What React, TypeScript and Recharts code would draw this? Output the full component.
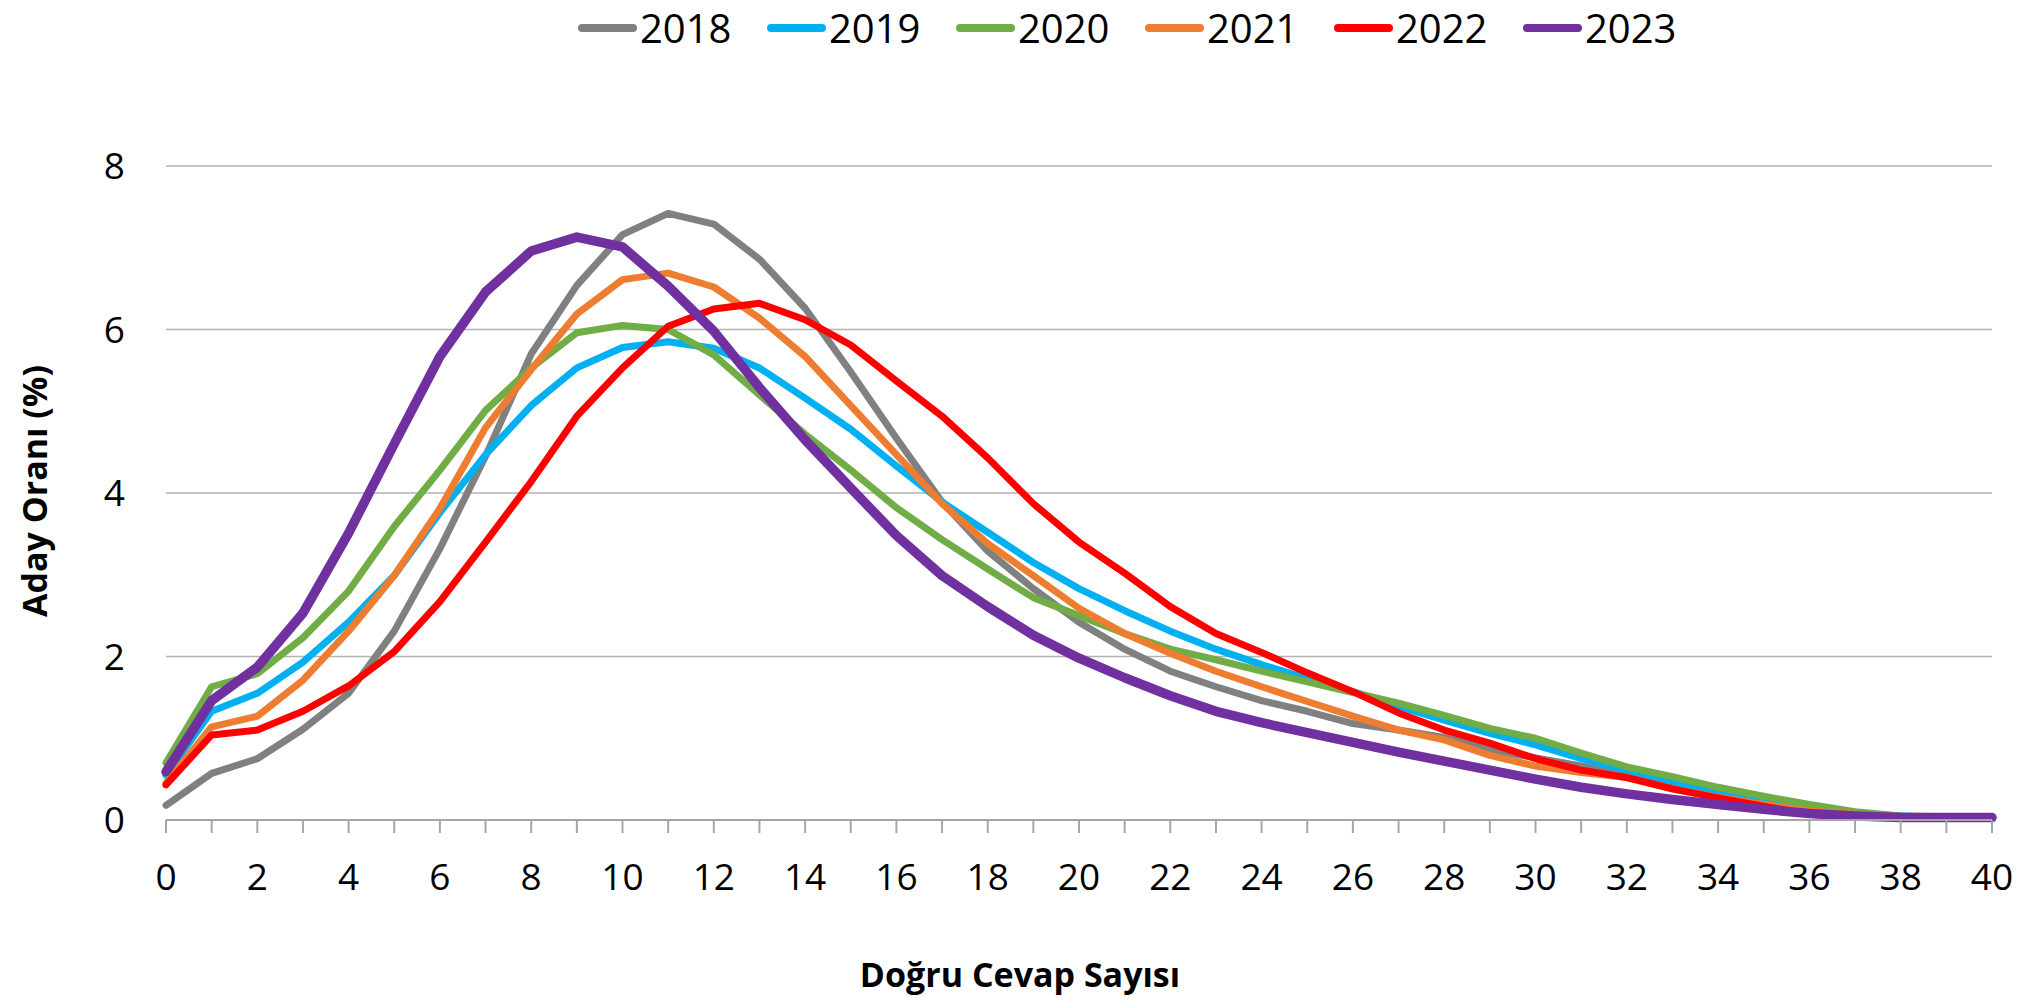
import React from "react";
import { LineChart, Line, XAxis, YAxis, CartesianGrid } from "recharts";

const dogruCevap = [
  0, 1, 2, 3, 4, 5, 6, 7, 8, 9, 10, 11, 12, 13, 14, 15, 16, 17, 18, 19, 20,
  21, 22, 23, 24, 25, 26, 27, 28, 29, 30, 31, 32, 33, 34, 35, 36, 37, 38, 39, 40,
];

const y2018 = [
  0.18, 0.57, 0.75, 1.11, 1.55, 2.31, 3.32, 4.45, 5.7, 6.54, 7.16, 7.42, 7.29, 6.86, 6.26, 5.48,
  4.67, 3.89, 3.29, 2.83, 2.42, 2.09, 1.82, 1.63, 1.46, 1.33, 1.18, 1.1, 1.01, 0.86, 0.76,
  0.66, 0.55, 0.43, 0.31, 0.2, 0.12, 0.07, 0.04, 0.03, 0.03,
];
const y2019 = [
  0.55, 1.33, 1.55, 1.93, 2.42, 2.99, 3.76, 4.47, 5.07, 5.53, 5.78, 5.85, 5.77, 5.53, 5.16, 4.78,
  4.33, 3.89, 3.52, 3.15, 2.83, 2.56, 2.31, 2.09, 1.9, 1.73, 1.57, 1.39, 1.22, 1.06, 0.92,
  0.75, 0.61, 0.48, 0.33, 0.22, 0.13, 0.08, 0.05, 0.03, 0.03,
];
const y2020 = [
  0.7, 1.63, 1.79, 2.23, 2.8, 3.59, 4.28, 5.01, 5.53, 5.96, 6.05, 6.0, 5.69, 5.2, 4.72, 4.28,
  3.82, 3.43, 3.07, 2.72, 2.5, 2.28, 2.09, 1.96, 1.82, 1.69, 1.56, 1.43, 1.28, 1.12, 1.0,
  0.82, 0.65, 0.53, 0.4, 0.29, 0.19, 0.1, 0.05, 0.04, 0.03,
];
const y2021 = [
  0.45, 1.14, 1.27, 1.71, 2.31, 2.99, 3.81, 4.8, 5.51, 6.19, 6.61, 6.69, 6.52, 6.14, 5.67, 5.07,
  4.47, 3.87, 3.38, 2.99, 2.59, 2.28, 2.04, 1.82, 1.63, 1.45, 1.27, 1.1, 0.98, 0.79, 0.66,
  0.58, 0.52, 0.38, 0.28, 0.19, 0.11, 0.07, 0.04, 0.03, 0.03,
];
const y2022 = [
  0.43, 1.04, 1.1, 1.33, 1.64, 2.06, 2.67, 3.4, 4.14, 4.94, 5.53, 6.04, 6.25, 6.32, 6.12, 5.81,
  5.37, 4.94, 4.43, 3.87, 3.4, 3.02, 2.61, 2.28, 2.05, 1.8, 1.57, 1.31, 1.1, 0.94, 0.75,
  0.61, 0.52, 0.38, 0.27, 0.17, 0.07, 0.03, 0.03, 0.02, 0.02,
];
const y2023 = [
  0.59, 1.46, 1.87, 2.53, 3.51, 4.6, 5.67, 6.46, 6.96, 7.13, 7.01, 6.53, 5.98, 5.29, 4.65, 4.06,
  3.48, 2.99, 2.61, 2.26, 1.98, 1.74, 1.52, 1.33, 1.19, 1.07, 0.95, 0.83, 0.72, 0.61, 0.5,
  0.4, 0.32, 0.25, 0.19, 0.13, 0.08, 0.05, 0.03, 0.03, 0.03,
];

const yTicks = [0, 2, 4, 6, 8];

const series = [
  { key: "2018", values: y2018, color: "#808080", width: 7 },
  { key: "2019", values: y2019, color: "#00b0f0", width: 7 },
  { key: "2020", values: y2020, color: "#70ad47", width: 7 },
  { key: "2021", values: y2021, color: "#ed7d31", width: 7 },
  { key: "2022", values: y2022, color: "#ff0000", width: 7 },
  { key: "2023", values: y2023, color: "#7030a0", width: 9.5 },
];

const data = dogruCevap.map((x, i) => {
  const row: Record<string, number> = { x };
  series.forEach((s) => (row[s.key] = s.values[i]));
  return row;
});

const font = "'Open Sans', 'Noto Sans', sans-serif";

function TopLegend() {
  return (
    <div style={{ position: "absolute", left: 578, top: 0, display: "flex", fontFamily: font }}>
      {series.map((s) => (
        <div key={s.key} style={{ width: 189, display: "flex", alignItems: "center", height: 55 }}>
          <span
            style={{
              display: "inline-block",
              width: 59,
              height: 8,
              borderRadius: 4,
              background: s.color,
              marginRight: 3,
            }}
          />
          <span style={{ fontSize: 40, lineHeight: "55px", color: "#000" }}>{s.key}</span>
        </div>
      ))}
    </div>
  );
}

export default function App() {
  return (
    <div style={{ position: "absolute", left: 0, top: 0, width: 2026, height: 1007, background: "#fff" }}>
      <LineChart width={2026} height={1007} data={data} margin={{ top: 166, right: 34, left: 0, bottom: 0 }}>
        <CartesianGrid vertical={false} stroke="#b3b3b3" strokeWidth={1.5} />
        <XAxis
          dataKey="x"
          type="number"
          domain={[0, 40]}
          ticks={dogruCevap}
          interval={0}
          height={187}
          tickSize={13}
          tickMargin={31}
          stroke="#a6a6a6"
          strokeWidth={2}
          tick={{ fill: "#000", fontSize: 37, fontFamily: font }}
          tickFormatter={(v: number) => (v % 2 === 0 ? String(v) : "")}
          label={{
            content: () => (
              <text x={1020} y={987} textAnchor="middle" fontFamily={font} fontWeight={700} fontSize={34} fill="#000">
                Doğru Cevap Sayısı
              </text>
            ),
          }}
        />
        <YAxis
          domain={[0, 8]}
          ticks={yTicks}
          width={166}
          axisLine={false}
          tickLine={false}
          tickSize={0}
          tickMargin={41}
          tick={{ fill: "#000", fontSize: 37, fontFamily: font }}
          label={{
            content: () => (
              <text
                x={47}
                y={491}
                transform="rotate(-90 47 491)"
                textAnchor="middle"
                fontFamily={font}
                fontWeight={700}
                fontSize={34}
                fill="#000"
              >
                Aday Oranı (%)
              </text>
            ),
          }}
        />
        {series.map((s) => (
          <Line
            key={s.key}
            type="linear"
            dataKey={s.key}
            stroke={s.color}
            strokeWidth={s.width}
            strokeLinecap="round"
            strokeLinejoin="round"
            dot={false}
            activeDot={false}
            isAnimationActive={false}
          />
        ))}
      </LineChart>
      <TopLegend />
    </div>
  );
}
